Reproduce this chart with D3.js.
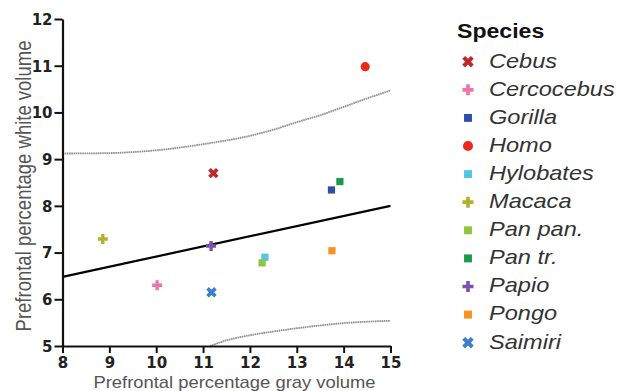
<!DOCTYPE html>
<html>
<head>
<meta charset="utf-8">
<script src="https://cdn.jsdelivr.net/npm/d3@7"></script>
<style>
  html, body { margin: 0; padding: 0; background: #fff; }
  svg { display: block; }
</style>
</head>
<body>
<script>
// ---- data ----
const species = ["Cebus","Cercocebus","Gorilla","Homo","Hylobates","Macaca","Pan pan.","Pan tr.","Papio","Pongo","Saimiri"];
const grayVol = [11.22, 10.02, 13.74, 14.46, 12.32, 8.86, 12.26, 13.92, 11.17, 13.75, 11.18];
const whiteVol = [8.70, 6.30, 8.34, 10.98, 6.90, 7.29, 6.78, 8.52, 7.14, 7.04, 6.15];
const shapes = ["x","plus","square","circle","square","plus","square","square","plus","square","x"];
const colors = ["#c0282c","#ef72ab","#2f4ea6","#ea2a1f","#4fc5e8","#b3b02c","#8dc641","#1b9a4c","#7d50b0","#f7931e","#3a7fcb"];

const fitX = [8, 15];
const fitY = [6.48, 8.0];
const upperX = [8, 9, 10, 11, 12, 12.5, 13, 13.5, 14, 14.5, 15];
const upperY = [9.12, 9.13, 9.19, 9.32, 9.50, 9.63, 9.79, 9.94, 10.12, 10.30, 10.47];
const lowerX = [11.15, 11.5, 12, 12.5, 13, 13.5, 14, 14.5, 15];
const lowerY = [5.0, 5.12, 5.23, 5.31, 5.38, 5.44, 5.49, 5.52, 5.54];

const xTicks = [8, 9, 10, 11, 12, 13, 14, 15];
const yTicks = [5, 6, 7, 8, 9, 10, 11, 12];
const xTitle = "Prefrontal percentage gray volume";
const yTitle = "Prefrontal percentage white volume";
const legendTitle = "Species";

// ---- layout ----
const W = 628, H = 391;
const S = 1.15; // horizontal text stretch
const svg = d3.select("body").append("svg").attr("width", W).attr("height", H);

const x = d3.scaleLinear().domain([8, 15]).range([62.5, 390.5]);
const y = d3.scaleLinear().domain([5, 12]).range([346, 19]);

// lines
const line = d3.line().x(d => x(d[0])).y(d => y(d[1])).curve(d3.curveMonotoneX);
svg.append("path")
  .attr("d", line(upperX.map((v, i) => [v, upperY[i]])))
  .attr("fill", "none").attr("stroke", "#8f8f8f").attr("stroke-width", 1.8)
  .attr("stroke-dasharray", "1.6,0.6");
svg.append("path")
  .attr("d", line(lowerX.map((v, i) => [v, lowerY[i]])))
  .attr("fill", "none").attr("stroke", "#8f8f8f").attr("stroke-width", 1.8)
  .attr("stroke-dasharray", "1.6,0.6");
svg.append("path")
  .attr("d", d3.line().x(d => x(d[0])).y(d => y(d[1]))(fitX.map((v, i) => [v, fitY[i]])))
  .attr("fill", "none").attr("stroke", "#000").attr("stroke-width", 2.2);

// axes
const yAxis = svg.append("g").attr("transform", `translate(${x(8)},0)`)
  .call(d3.axisLeft(y).tickValues(yTicks).tickSize(8).tickSizeOuter(0).tickFormat(d3.format("d")));
const xAxis = svg.append("g").attr("transform", `translate(0,${y(5)})`)
  .call(d3.axisBottom(x).tickValues(xTicks).tickSize(7).tickSizeOuter(0).tickFormat(d3.format("d")));
[yAxis, xAxis].forEach(g => {
  g.select(".domain").attr("stroke", "#111").attr("stroke-width", 2.2);
  g.selectAll(".tick line").attr("stroke", "#111").attr("stroke-width", 2);
  g.selectAll(".tick text")
    .attr("font-family", "DejaVu Sans").attr("font-size", 15).attr("font-weight", "bold")
    .attr("fill", "#222");
});
yAxis.selectAll(".tick text").attr("x", -10).attr("dy", "0.36em");
xAxis.selectAll(".tick text").attr("y", 8).attr("dy", "0.9em");

// axis titles
svg.append("text")
  .attr("transform", `translate(${(62.5 + 390.5) / 2 + 8},387.5) scale(${S},1)`)
  .attr("text-anchor", "middle")
  .attr("font-family", "Liberation Sans").attr("font-size", 16).attr("fill", "#555")
  .text(xTitle);
svg.append("text")
  .attr("transform", `translate(31,186) scale(${S},1) rotate(-90)`)
  .attr("text-anchor", "middle")
  .attr("font-family", "Liberation Sans").attr("font-size", 18.5).attr("fill", "#555")
  .text(yTitle);

// symbols
function symPath(shape, big) {
  const k = big ? 1.1 : 1;
  if (shape === "square") return d3.symbol(d3.symbolSquare, 52 * k * k)();
  if (shape === "circle") return d3.symbol(d3.symbolCircle, 66 * k * k)();
  if (shape === "x") return d3.symbol(d3.symbolCross, 68 * k * k)();
  return d3.symbol(d3.symbolCross, 56 * k * k)();
}
function symTransform(shape) { return shape === "x" ? " rotate(45)" : ""; }

svg.append("g").selectAll("path")
  .data(species.map((s, i) => ({ s, gx: grayVol[i], wy: whiteVol[i], shape: shapes[i], c: colors[i] })))
  .join("path")
  .attr("d", d => symPath(d.shape, false))
  .attr("transform", d => `translate(${x(d.gx)},${y(d.wy)})${symTransform(d.shape)}`)
  .attr("fill", d => d.c);

// legend
const leg = svg.append("g");
leg.append("text")
  .attr("transform", `translate(457,38) scale(1.1,1)`)
  .attr("font-family", "Liberation Sans").attr("font-weight", "bold").attr("font-size", 21)
  .attr("fill", "#111").text(legendTitle);
const rowH = 28.1, row0 = 61.7;
species.forEach((s, i) => {
  const cy = row0 + i * rowH;
  leg.append("path")
    .attr("d", symPath(shapes[i], true))
    .attr("transform", `translate(468,${cy})${symTransform(shapes[i])}`)
    .attr("fill", colors[i]);
  leg.append("text")
    .attr("transform", `translate(489,${cy + 5.8}) scale(${S},1)`)
    .attr("font-family", "Liberation Sans").attr("font-style", "italic").attr("font-size", 20.5)
    .attr("fill", "#333").text(s);
});
</script>
</body>
</html>
